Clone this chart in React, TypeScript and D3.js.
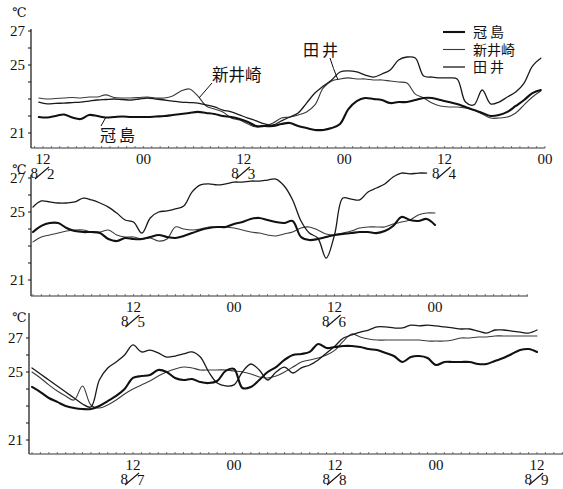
import React from "react";
import * as d3 from "d3";

// Stations, in legend order
const STATIONS = ["冠島", "新井崎", "田井"];
const STROKE_WIDTHS = [2.1, 1.1, 1.3];
const STROKE_COLORS = ["#111", "#3a3a3a", "#1a1a1a"];

// Panel 1: hourly readings (°C) starting 8/2 11:30, hours counted from 8/2 00:00
const P1_START = 11.5;
const p1Kanmuri = [21.94, 21.91, 22.0, 22.09, 21.91, 21.82, 22.06, 22.0, 21.91, 21.94, 21.97, 21.94, 21.94, 21.94, 21.97, 22.0, 22.06, 22.12, 22.18, 22.24, 22.18, 22.12, 22.0, 21.94, 21.82, 21.65, 21.41, 21.41, 21.41, 21.53, 21.59, 21.41, 21.29, 21.18, 21.18, 21.29, 21.53, 22.41, 22.88, 23.06, 23.0, 22.94, 22.76, 22.82, 22.82, 22.94, 23.06, 23.06, 22.94, 22.82, 22.71, 22.53, 22.35, 22.18, 22.0, 22.06, 22.24, 22.59, 22.94, 23.35, 23.53];
const p1Niizaki = [23.06, 23.0, 23.03, 23.06, 23.09, 23.06, 23.12, 23.12, 23.24, 23.09, 23.06, 23.06, 23.09, 23.12, 23.06, 23.06, 23.18, 23.47, 23.59, 23.18, 22.59, 22.41, 22.24, 21.88, 21.76, 21.53, 21.35, 21.41, 21.59, 21.88, 21.94, 22.06, 22.24, 22.65, 23.65, 24.06, 24.18, 24.24, 24.18, 24.18, 24.12, 24.12, 24.06, 24.0, 23.94, 23.29, 23.06, 22.76, 22.59, 22.53, 22.53, 22.47, 22.35, 22.12, 21.88, 21.88, 21.94, 22.18, 22.65, 23.12, 23.47];
const p1Tai = [22.82, 22.71, 22.74, 22.76, 22.79, 22.82, 22.88, 22.94, 22.97, 23.0, 22.97, 22.94, 23.0, 23.06, 23.0, 22.94, 22.88, 22.82, 22.79, 22.76, 22.65, 22.53, 22.35, 22.24, 22.06, 21.88, 21.71, 21.53, 21.47, 21.71, 21.94, 22.18, 22.76, 23.35, 23.76, 24.12, 24.59, 24.65, 24.59, 24.41, 24.29, 24.47, 24.71, 25.29, 25.47, 25.41, 24.35, 24.29, 24.24, 24.24, 24.18, 22.82, 22.65, 23.53, 22.71, 22.82, 23.12, 23.41, 23.94, 24.94, 25.4];

// Panel 2: hourly readings starting 8/5 00:00
const P2_START = 0;
const p2Kanmuri = [23.82, 24.18, 24.35, 24.35, 24.06, 23.88, 23.82, 23.82, 23.76, 23.41, 23.29, 23.47, 23.41, 23.41, 23.53, 23.65, 23.53, 23.47, 23.59, 23.76, 23.94, 24.06, 24.12, 24.12, 24.29, 24.41, 24.59, 24.65, 24.53, 24.41, 24.35, 24.47, 23.53, 23.35, 23.41, 23.53, 23.65, 23.71, 23.76, 23.82, 23.82, 23.76, 23.88, 24.18, 24.71, 24.53, 24.47, 24.59, 24.24];
const p2Niizaki = [23.24, 23.53, 23.65, 23.76, 23.88, 23.94, 23.94, 23.82, 23.82, 23.94, 23.65, 23.53, 23.53, 23.41, 23.47, 23.29, 23.41, 24.12, 24.0, 23.94, 24.0, 24.12, 24.12, 24.12, 24.06, 23.94, 23.82, 23.76, 23.65, 23.59, 23.71, 23.82, 24.06, 24.12, 23.94, 23.71, 23.65, 23.76, 23.88, 24.06, 24.12, 24.12, 24.12, 24.29, 24.41, 24.53, 24.82, 24.94, 24.94];
const p2Tai = [25.29, 25.65, 25.59, 25.53, 25.53, 25.59, 25.82, 25.71, 25.53, 25.29, 24.94, 24.53, 24.41, 23.76, 24.65, 25.0, 25.06, 25.18, 25.35, 26.18, 26.59, 26.65, 26.59, 26.65, 26.76, 26.76, 26.82, 26.82, 26.88, 26.94, 26.53, 25.71, 24.47, 23.76, 23.47, 22.29, 23.65, 25.82, 25.76, 25.71, 26.18, 26.41, 26.65, 27.06, 27.29, 27.24, 27.29, 27.29];

// Panel 3: hourly readings starting 8/7 00:00
const P3_START = 0;
const p3Kanmuri = [24.12, 23.82, 23.47, 23.24, 23.0, 22.88, 22.82, 22.82, 23.0, 23.29, 23.59, 24.0, 24.65, 24.76, 24.82, 25.12, 25.0, 24.65, 24.53, 24.59, 24.41, 24.35, 24.47, 25.06, 25.18, 24.06, 24.12, 24.53, 25.0, 25.29, 25.71, 26.0, 26.06, 26.18, 26.65, 26.41, 26.47, 26.53, 26.53, 26.47, 26.35, 26.29, 26.12, 25.94, 25.59, 25.88, 25.94, 25.82, 25.41, 25.59, 25.59, 25.59, 25.59, 25.47, 25.47, 25.65, 25.82, 26.06, 26.29, 26.35, 26.18];
const p3Niizaki = [25.0, 24.65, 24.24, 23.88, 23.59, 23.35, 24.18, 23.06, 22.88, 23.06, 23.35, 23.71, 24.0, 24.24, 24.47, 24.76, 25.0, 25.18, 25.29, 25.24, 25.12, 25.12, 25.12, 25.12, 25.06, 25.0, 24.88, 24.71, 24.65, 24.76, 25.0, 25.29, 25.59, 25.71, 25.82, 26.0, 26.29, 26.82, 27.24, 27.06, 26.94, 26.88, 26.88, 26.88, 26.88, 26.88, 26.88, 26.82, 26.82, 26.82, 26.88, 27.0, 27.0, 27.06, 27.06, 27.12, 27.12, 27.12, 27.12, 27.12, 27.12];
const p3Tai = [25.24, 24.88, 24.53, 24.18, 23.82, 23.47, 23.12, 22.94, 24.53, 25.24, 25.59, 26.0, 26.59, 26.18, 26.29, 26.12, 25.88, 25.94, 26.06, 26.18, 25.88, 25.0, 24.35, 24.18, 24.24, 25.0, 25.47, 25.12, 24.53, 25.0, 25.29, 24.94, 25.24, 25.41, 25.71, 26.12, 26.53, 27.0, 27.18, 27.35, 27.47, 27.65, 27.65, 27.59, 27.59, 27.76, 27.71, 27.76, 27.71, 27.65, 27.59, 27.53, 27.53, 27.41, 27.29, 27.47, 27.47, 27.41, 27.35, 27.29, 27.47];

// Axis labels
const Y_TICK_LABELS = [27, 25, 21];
const Y_MINOR = [21, 22, 23, 24, 25, 26, 27];

const P1_TICK_HOURS = [12, 24, 36, 48, 60, 72];
const P1_TICK_TEXT = ["12", "00", "12", "00", "12", "00"];
const P1_TICK_DATES = ["8/2", "", "8/3", "", "8/4", ""];

const P2_TICK_HOURS = [12, 24, 36, 48];
const P2_TICK_TEXT = ["12", "00", "12", "00"];
const P2_TICK_DATES = ["8/5", "", "8/6", ""];

const P3_TICK_HOURS = [12, 24, 36, 48, 60];
const P3_TICK_TEXT = ["12", "00", "12", "00", "12"];
const P3_TICK_DATES = ["8/7", "", "8/8", "", "8/9"];

type PanelSpec = {
  series: number[][];
  start: number;
  hours: [number, number];
  xr: [number, number];
  yr: [number, number];
  axisLeft: number;
  axisRight: number;
  axisTop: number;
  base: number;
  unitY: number;
  tickHours: number[];
  tickText: string[];
  tickDates: string[];
};

const PANELS: PanelSpec[] = [
  {
    series: [p1Kanmuri, p1Niizaki, p1Tai], start: P1_START,
    hours: [12, 72], xr: [43, 545], yr: [133, 65],
    axisLeft: 31, axisRight: 545, axisTop: 29, base: 148, unitY: 17,
    tickHours: P1_TICK_HOURS, tickText: P1_TICK_TEXT, tickDates: P1_TICK_DATES,
  },
  {
    series: [p2Kanmuri, p2Niizaki, p2Tai], start: P2_START,
    hours: [0, 48], xr: [33, 435], yr: [280, 212],
    axisLeft: 31, axisRight: 528, axisTop: 175, base: 296, unitY: 174,
    tickHours: P2_TICK_HOURS, tickText: P2_TICK_TEXT, tickDates: P2_TICK_DATES,
  },
  {
    series: [p3Kanmuri, p3Niizaki, p3Tai], start: P3_START,
    hours: [0, 60], xr: [32, 537], yr: [440, 372],
    axisLeft: 29, axisRight: 563, axisTop: 313, base: 454, unitY: 322,
    tickHours: P3_TICK_HOURS, tickText: P3_TICK_TEXT, tickDates: P3_TICK_DATES,
  },
];

const INK = "#111";
const SERIF = "'Liberation Serif', 'DejaVu Serif', serif";
const CJK = "'Noto Sans CJK JP', 'Noto Sans CJK SC', sans-serif";

function DateLabel({ cx, y, text }: { cx: number; y: number; text: string }) {
  const [m, d] = text.split("/");
  return (
    <g fill={INK} fontSize={15} fontFamily={SERIF}>
      <text x={cx - 5} y={y} textAnchor="end">{m}</text>
      <line x1={cx - 8} y1={y + 1} x2={cx + 6} y2={y - 11} stroke={INK} strokeWidth={1.1} />
      <text x={cx + 4} y={y + 1} textAnchor="start">{d}</text>
    </g>
  );
}

function Panel({ p }: { p: PanelSpec }) {
  const x = d3.scaleLinear().domain(p.hours).range(p.xr);
  const y = d3.scaleLinear().domain([21, 25]).range(p.yr);
  const hourTicks = d3.range(Math.ceil(x.invert(p.axisLeft + 2)), Math.floor(x.invert(p.axisRight)) + 1);
  const order = [1, 2, 0];

  return (
    <g>
      {/* axes */}
      <line x1={p.axisLeft} y1={p.axisTop} x2={p.axisLeft} y2={p.base} stroke={INK} strokeWidth={1.2} />
      <line x1={p.axisLeft} y1={p.base} x2={p.axisRight} y2={p.base} stroke="#333" strokeWidth={1} />
      {hourTicks.map((h) => (
        <line key={h} x1={x(h)} x2={x(h)} y1={p.base} y2={p.base - 2} stroke="#555" strokeWidth={0.8} />
      ))}
      {Y_MINOR.map((v) => (
        <line key={v} x1={p.axisLeft - 3} x2={p.axisLeft} y1={y(v)} y2={y(v)} stroke={INK} strokeWidth={1} />
      ))}
      {Y_TICK_LABELS.map((v) => (
        <text key={v} x={p.axisLeft - 6} y={y(v)} dy="0.36em" textAnchor="end" fontSize={15} fontFamily={SERIF} fill={INK}>
          {v}
        </text>
      ))}
      <text x={12} y={p.unitY} fontSize={13} fontFamily={SERIF} fill={INK}>℃</text>
      {p.tickHours.map((h, i) => (
        <g key={h}>
          <text x={x(h)} y={p.base + 16} textAnchor="middle" fontSize={15} fontFamily={SERIF} fill={INK}>
            {p.tickText[i]}
          </text>
          {p.tickDates[i] ? <DateLabel cx={x(h)} y={p.base + 30} text={p.tickDates[i]} /> : null}
        </g>
      ))}
      {/* series */}
      {order.map((si) => {
        const gen = d3
          .line<number>()
          .x((_, i) => x(p.start + i))
          .y((v) => y(v))
          .curve(d3.curveCatmullRom.alpha(0.5));
        return (
          <path
            key={si}
            d={gen(p.series[si]) || ""}
            fill="none"
            stroke={STROKE_COLORS[si]}
            strokeWidth={STROKE_WIDTHS[si]}
            strokeLinejoin="round"
            strokeLinecap="round"
          />
        );
      })}
    </g>
  );
}

export default function App() {
  const legendY = [32, 49.5, 67];
  const legendSpacing = [3, 0, 3];
  return (
    <svg
      width={563}
      height={489}
      viewBox="0 0 563 489"
      style={{ position: "absolute", left: 0, top: 0, background: "#fff" }}
    >
      <rect width={563} height={489} fill="#fff" />
      {PANELS.map((p, i) => (
        <Panel key={i} p={p} />
      ))}

      {/* legend */}
      {STATIONS.map((name, i) => (
        <g key={name}>
          <line x1={443} x2={465} y1={legendY[i]} y2={legendY[i]} stroke={STROKE_COLORS[i]} strokeWidth={STROKE_WIDTHS[i]} />
          <text x={473} y={legendY[i] + 5} fontSize={14} fontFamily={CJK} fill={INK} letterSpacing={legendSpacing[i]}>
            {name}
          </text>
        </g>
      ))}

      {/* station call-outs on the first panel */}
      <g fontFamily={CJK} fill={INK}>
        <text x={212} y={81} fontSize={16.5}>{STATIONS[1]}</text>
        <line x1={212} y1={83} x2={199} y2={98} stroke={INK} strokeWidth={1} />
        <text x={303} y={56} fontSize={16} letterSpacing={3}>{STATIONS[2]}</text>
        <path d="M330,58 Q333,68 338,80" fill="none" stroke={INK} strokeWidth={1} />
        <text x={100} y={141} fontSize={16} letterSpacing={3}>{STATIONS[0]}</text>
        <line x1={106} y1={117} x2={101} y2={126} stroke={INK} strokeWidth={1} />
      </g>
    </svg>
  );
}
